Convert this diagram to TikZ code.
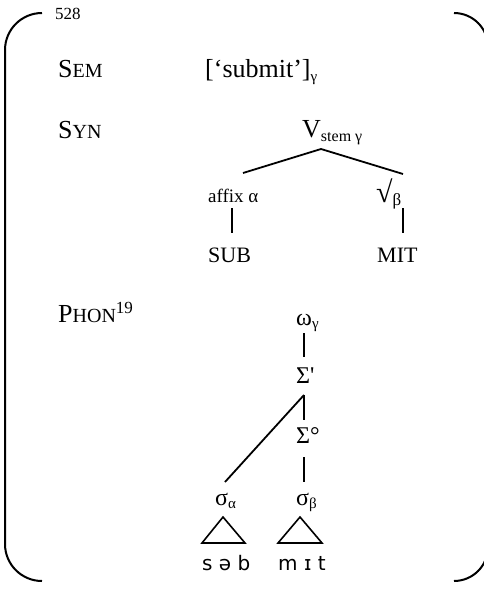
\documentclass[tikz,border=0pt]{standalone}
\usepackage{fontspec}
\setmainfont{Liberation Serif}
\newfontfamily\ipafont{DejaVu Sans}
\newcommand\fs[1]{\fontsize{#1}{#1}\selectfont}
\begin{document}
\begin{tikzpicture}[x=1pt,y=-1pt,
  lbl/.style={inner sep=0pt,anchor=base west},
  edge/.style={line width=1.8pt},
  tri/.style={line width=1.6pt,line join=miter},
  brk/.style={line width=2pt}]
\useasboundingbox (0,0) rectangle (483,591);
% brackets
\draw[brk,rounded corners=37pt] (42,13) -- (5,13) -- (5,581) -- (42,581);
\draw[brk,rounded corners=34pt] (454,13) -- (488,13) -- (488,581) -- (454,581);
% labels
\node[lbl,font=\fs{17}] (pg) at (55,20) {528};
\node[lbl,font=\fs{26}] (sem) at (58,78) {S{\fs{20}EM}};
\node[lbl,font=\fs{26}] (semval) at (205,78) {[‘submit’]\raisebox{-4pt}{\fs{15}γ}};
\node[lbl,font=\fs{26}] (syn) at (58,139) {S{\fs{20}YN}};
\node[lbl,font=\fs{26}] (vstem) at (302,137) {V\raisebox{-5pt}{\fs{16}stem γ}};
\node[lbl,font=\fs{19}] (affix) at (208,202) {affix α};
\node[lbl,font=\fs{30}] (root) at (376,202) {√\raisebox{-3pt}{\fs{17}β}};
\node[lbl,font=\fs{22}] (sub) at (208,262) {SUB};
\node[lbl,font=\fs{22}] (mit) at (377,262) {MIT};
\node[lbl,font=\fs{26}] (phon) at (58,322) {P{\fs{20}HON}\raisebox{9pt}{\fs{17}19}};
\node[lbl,font=\fs{24}] (omega) at (296,325) {ω\raisebox{-3pt}{\fs{15}γ}};
\node[lbl,font=\fs{24}] (sigp) at (296,383) {Σ{\addfontfeature{Ligatures=TeXOff}'}};
\node[lbl,font=\fs{24}] (sigo) at (296,443) {Σ°};
\node[lbl,font=\fs{24}] (sa) at (215,505) {σ\raisebox{-3pt}{\fs{15}α}};
\node[lbl,font=\fs{24}] (sb) at (296,505) {σ\raisebox{-3pt}{\fs{15}β}};
\node[lbl,font=\ipafont\fs{20}] (ipa1) at (202,570) {s ə b};
\node[lbl,font=\ipafont\fs{20}] (ipa2) at (278,570) {m ɪ t};
% connector ends
\coordinate (vtop) at (321,149);
\coordinate (vl) at (243,173);
\coordinate (vr) at (403,174);
\coordinate (afb) at (232,208);
\coordinate (subt) at (232,233);
\coordinate (rtb) at (403,208);
\coordinate (mitt) at (403,233);
\coordinate (omb) at (304,333);
\coordinate (sigpt) at (304,357);
\coordinate (sigpb) at (304,395);
\coordinate (sigot) at (304,420);
\coordinate (sigob) at (304,457);
\coordinate (sbt) at (304,482);
\coordinate (sat) at (225,482);
\draw[edge] (vl) -- (vtop) -- (vr);
\draw[edge] (afb) -- (subt);
\draw[edge] (rtb) -- (mitt);
\draw[edge] (omb) -- (sigpt);
\draw[edge] (sigpb) -- (sigot);
\draw[edge] (sigob) -- (sbt);
\draw[edge] (sigpb) -- (sat);
% triangles
\draw[tri] (223,517) -- (245,543) -- (202,543) -- cycle;
\draw[tri] (300,517) -- (322,543) -- (278,543) -- cycle;
\end{tikzpicture}
\end{document}
